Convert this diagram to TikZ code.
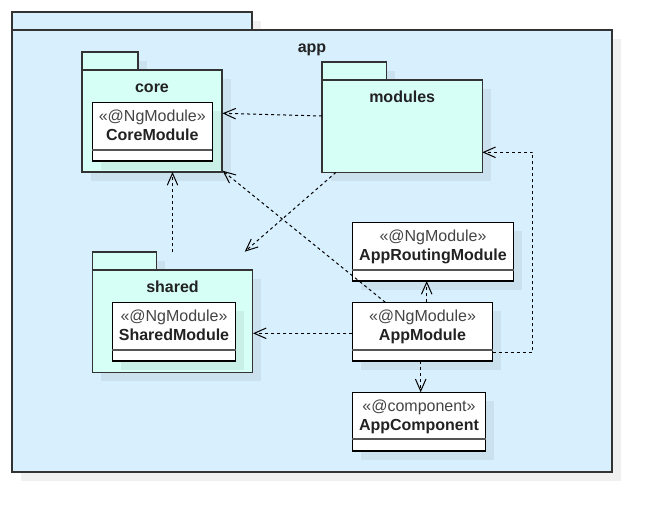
\documentclass[tikz,border=0pt]{standalone}
\usepackage{fontspec}
\setmainfont{Liberation Sans}
\usetikzlibrary{arrows.meta,shadows,calc}
\definecolor{appfill}{HTML}{D8F0FD}
\definecolor{pkgfill}{HTML}{D6FFF6}
\definecolor{edge}{HTML}{333333}
\definecolor{sep}{HTML}{555555}
\definecolor{ink}{HTML}{222222}
\definecolor{stereo}{HTML}{444444}
\begin{document}
\begin{tikzpicture}[x=1pt,y=-1pt,
  dropshadow/.style={general shadow={shadow xshift=8.5pt,shadow yshift=-8.5pt,fill=black,opacity=0.06}},
  box/.style={dropshadow,draw=edge,line width=1.3pt,inner sep=0pt,outer sep=0pt,anchor=north west},
  appbox/.style={box,fill=appfill},
  pkg/.style={box,fill=pkgfill},
  cls/.style={box,draw=black,line width=1.2pt,fill=white},
  divider/.style={draw=sep,line width=2pt},
  pkglabel/.style={anchor=base,inner sep=0pt,text=ink,font=\fontsize{16}{19}\selectfont\bfseries},
  stlabel/.style={anchor=base,inner sep=0pt,text=stereo,font=\fontsize{16}{19}\selectfont},
  namelabel/.style={anchor=base,inner sep=0pt,text=ink,font=\fontsize{16}{19}\selectfont\bfseries},
  dep/.style={draw=black,line width=1pt,dash pattern=on 3pt off 3pt,
    -{Straight Barb[length=12pt,width=10.5pt,line width=1pt]}},
]
\useasboundingbox (0,0) rectangle (662,522);

% outer package: app
\node[appbox,minimum width=240,minimum height=18] (apptab) at (12,12) {};
\node[appbox,minimum width=600,minimum height=442] (app) at (12,30) {};
\node[pkglabel] at ($(app.north)+(0,22)$) {app};

% package: core
\node[pkg,minimum width=56,minimum height=18] (coretab) at (82,52) {};
\node[pkg,minimum width=140,minimum height=102] (core) at (82,70) {};
\node[pkglabel] at ($(core.north)+(0,22.3)$) {core};
\node[cls,minimum width=120,minimum height=58.7] (coremod) at (92.3,102.3) {};
\draw[divider] ($(coremod.south west)+(0,-11)$) -- ($(coremod.south east)+(0,-11)$);
\node[stlabel] at ($(coremod.north)+(0,19.4)$) {«@NgModule»};
\node[namelabel] at ($(coremod.north)+(0,37.7)$) {CoreModule};

% package: modules
\node[pkg,minimum width=64.7,minimum height=18] (modtab) at (322,62) {};
\node[pkg,minimum width=160.3,minimum height=92.3] (mod) at (322,80) {};
\node[pkglabel] at ($(mod.north)+(0,22.7)$) {modules};

% package: shared
\node[pkg,minimum width=64.4,minimum height=18] (shtab) at (92.3,252) {};
\node[pkg,minimum width=160.4,minimum height=102.3] (shared) at (92.3,270) {};
\node[pkglabel] at ($(shared.north)+(0,22.7)$) {shared};
\node[cls,minimum width=123.4,minimum height=58.7] (shmod) at (112.3,302.3) {};
\draw[divider] ($(shmod.south west)+(0,-11)$) -- ($(shmod.south east)+(0,-11)$);
\node[stlabel] at ($(shmod.north)+(0,19.4)$) {«@NgModule»};
\node[namelabel] at ($(shmod.north)+(0,37.7)$) {SharedModule};

% class: AppRoutingModule
\node[cls,minimum width=161.4,minimum height=58.7] (route) at (352.3,222.3) {};
\draw[divider] ($(route.south west)+(0,-11)$) -- ($(route.south east)+(0,-11)$);
\node[stlabel] at ($(route.north)+(0,19.4)$) {«@NgModule»};
\node[namelabel] at ($(route.north)+(0,37.7)$) {AppRoutingModule};

% class: AppModule
\node[cls,minimum width=140.4,minimum height=58.7] (appm) at (352.3,302.3) {};
\draw[divider] ($(appm.south west)+(0,-11)$) -- ($(appm.south east)+(0,-11)$);
\node[stlabel] at ($(appm.north)+(0,19.4)$) {«@NgModule»};
\node[namelabel] at ($(appm.north)+(0,37.7)$) {AppModule};

% class: AppComponent
\node[cls,minimum width=133.4,minimum height=58.7] (comp) at (352.3,392.3) {};
\draw[divider] ($(comp.south west)+(0,-11.7)$) -- ($(comp.south east)+(0,-11.7)$);
\node[stlabel] at ($(comp.north)+(0,19.4)$) {«@component»};
\node[namelabel] at ($(comp.north)+(0,37.7)$) {AppComponent};

% dependencies
\draw[dep] ($(mod.north west)+(0,36)$) -- ($(core.north east)+(0.5,43.3)$);
\draw[dep] ($(appm.north west)+(33,0)$) -- ($(core.south east)+(0.5,-1.3)$);
\draw[dep] ($(mod.south west)+(14,0)$) -- ($(shared.north east)+(-8,-18.3)$);
\draw[dep] ($(shared.north)+(0,-18)$) -- (core.south -| shared.north);
\draw[dep] ($(appm.north west)+(0,31)$) -- ($(shared.north east)+(0.3,63.3)$);
\draw[dep] ($(appm.north west)+(74.4,0)$) -- ($(route.south west)+(74.4,0)$);
\draw[dep] ($(appm.south west)+(68.4,0)$) -- ($(comp.north west)+(68.4,0)$);
\coordinate (bend) at ($(appm.south east)+(40,-8.7)$);
\draw[dep] ($(appm.south east)+(0,-8.7)$) -- (bend) |- ($(mod.south east)+(0,-20)$);
\end{tikzpicture}
\end{document}
